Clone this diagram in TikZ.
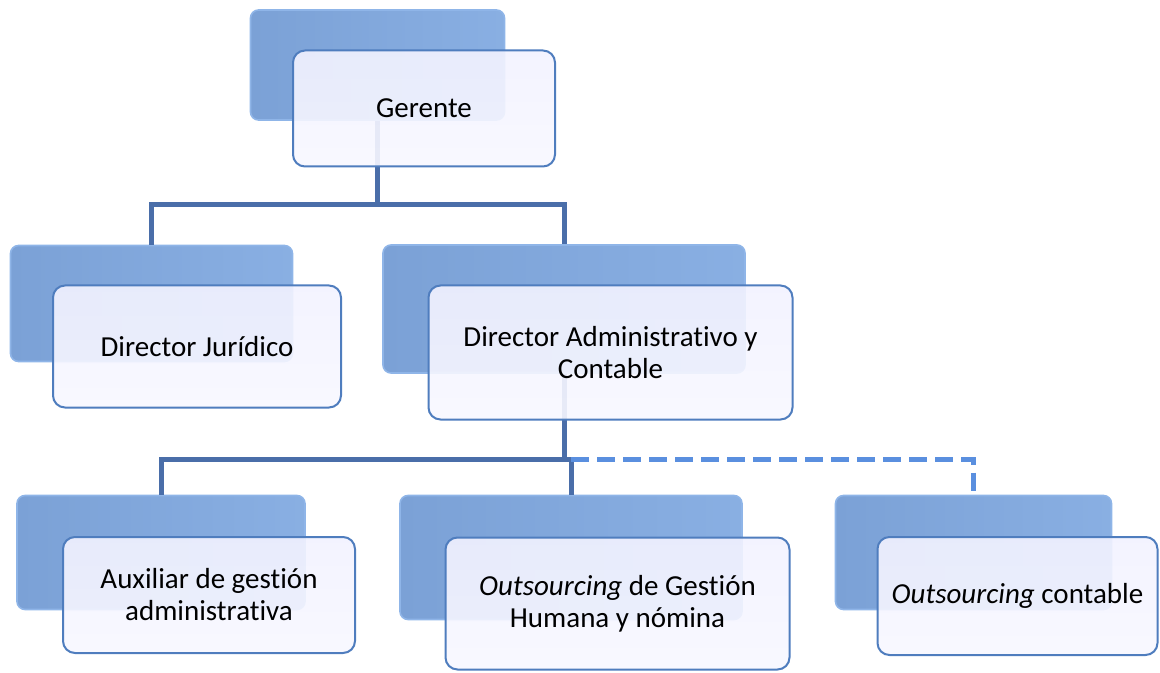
\documentclass[tikz,border=0pt]{standalone}
\usepackage{fontspec}
\setmainfont{Carlito}[Ligatures=NoCommon]
\usetikzlibrary{shadows}

\definecolor{azulfondo}{HTML}{7BA1D6}
\definecolor{azulclaro}{HTML}{8FB5E8}
\definecolor{bordecargo}{HTML}{4F7DBE}
\definecolor{azullinea}{HTML}{4A6EA9}
\definecolor{azulguion}{HTML}{5A8FDF}

\begin{document}
\begin{tikzpicture}[x=0.5pt,y=-0.5pt]

        % Capas:
        \pgfdeclarelayer{background}
        \pgfdeclarelayer{foreground}
        \pgfsetlayers{background,main,foreground}

        % Estilos:
        \tikzstyle{fondo}=[draw=azulclaro, line width=0.8pt, rounded corners=4pt,
        left color=azulfondo, right color=azulclaro!70!azulfondo]
        \tikzstyle{cargo}=[draw=bordecargo, line width=1pt, rounded corners=6pt,
        top color=black!3!blue!5, bottom color=white!97!blue,
        fill opacity=0.91, text opacity=1, align=center,
        font=\fontsize{14.5}{16}\selectfont]
        \tikzstyle{linea}=[draw, line width=2.5pt, color=azullinea]
        \tikzstyle{lineap}=[draw, line width=2.5pt, color=azulguion,
        dash pattern=on 9pt off 4pt]

        \newcommand{\fondo}[3]{node (f#1) [fondo,minimum width=#2,minimum height=#3] {}}
        \newcommand{\cargo}[4]{node (c#1) [cargo,minimum width=#2,minimum height=#3] {#4}}

        \useasboundingbox (0,0) rectangle (1160,673);

        % Fondos:
        \begin{pgfonlayer}{background}
        \path (377.5,65) \fondo{g}{127pt}{55pt};
        \path (151.5,303.5) \fondo{j}{141pt}{58pt};
        \path (564,309) \fondo{d}{181pt}{64pt};
        \path (161,552.5) \fondo{a}{144pt}{57pt};
        \path (571,557.5) \fondo{o}{171pt}{62pt};
        \path (973.5,552.5) \fondo{c}{138pt}{57pt};
        \end{pgfonlayer}

        % Conectores:
        \coordinate (r1) at (377.5,205);
        \coordinate (r2) at (564,459);
        \path [linea] (fg.south) -- (r1);
        \path [linea] (fj.north) |- (r1) -| (fd.north);
        \path [linea] (fd.south) -- (r2);
        \path [linea] (fa.north) |- (r2) -| (fo.north);
        \path [lineap] (fo.north |- r2) -| (fc.north);

        % Cargos:
        \begin{pgfonlayer}{foreground}
        \path (fg.center)+(46.5,43.5) \cargo{g}{131pt}{58pt}{Gerente};
        \path (fj.center)+(45.5,43) \cargo{j}{144pt}{61pt}{Director Jurídico};
        \path (fd.center)+(46.5,43.5) \cargo{d}{182pt}{67pt}{Director Administrativo y\\ Contable};
        \path (fa.center)+(48,42.5) \cargo{a}{146pt}{58pt}{Auxiliar de gestión\\ administrativa};
        \path (fo.center)+(46.5,46) \cargo{o}{172pt}{66pt}{\textit{Outsourcing} de Gestión\\ Humana y nómina};
        \path (fc.center)+(44,43.5) \cargo{c}{140pt}{59pt}{\textit{Outsourcing} contable};
        \end{pgfonlayer}
\end{tikzpicture}
\end{document}
